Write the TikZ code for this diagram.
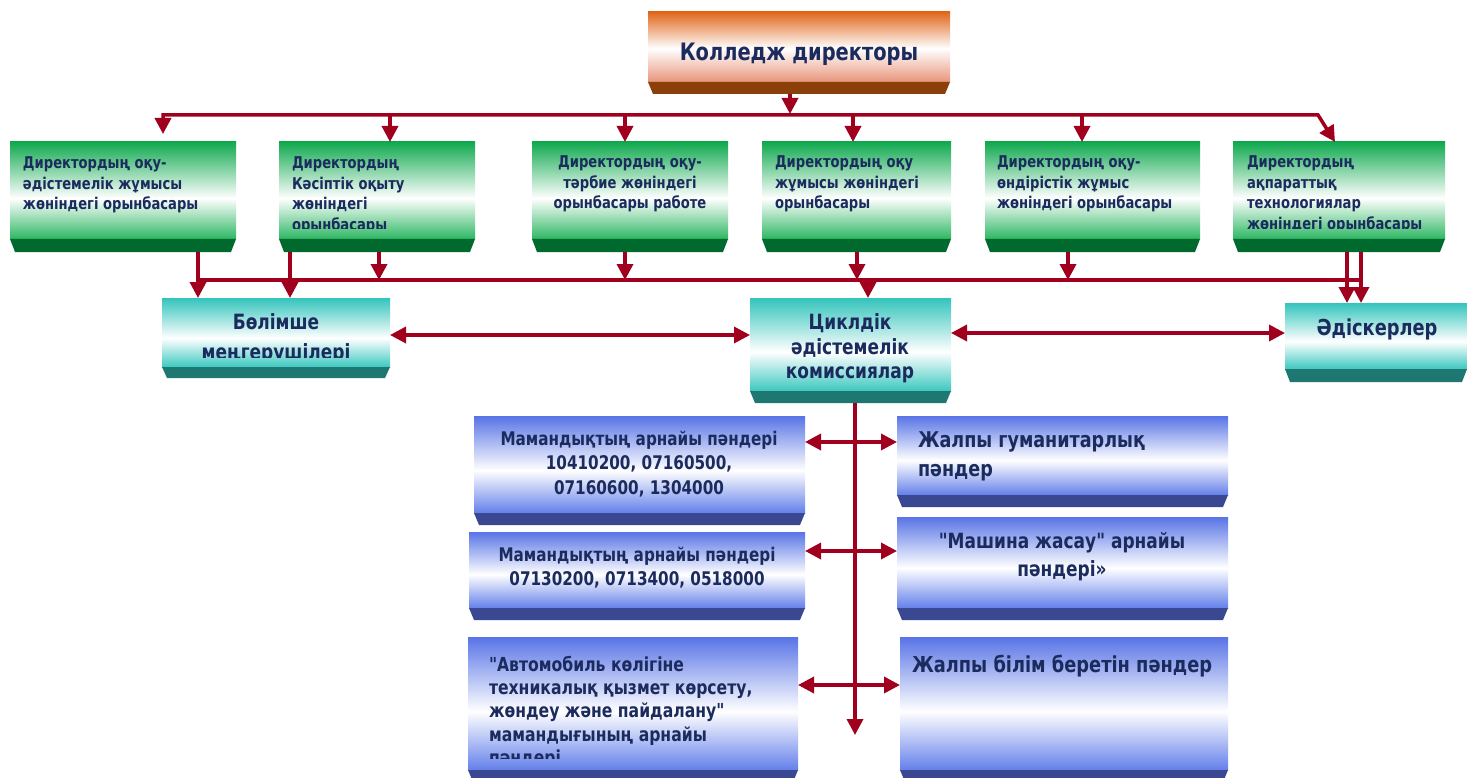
\documentclass[tikz,border=0pt]{standalone}
\usepackage{fontspec}
\setmainfont{DejaVu Sans Condensed}[Ligatures=TeXOff, FakeStretch=0.9]
\usetikzlibrary{arrows.meta,calc}
\definecolor{arrred}{HTML}{A0001E}
\definecolor{txtblue}{HTML}{1B2B5E}
\definecolor{gTop}{HTML}{10A94F}
\definecolor{gBot}{HTML}{2DB763}
\definecolor{gSh}{HTML}{006A2E}
\definecolor{tTop}{HTML}{33C4BC}
\definecolor{tBot}{HTML}{3CC8C0}
\definecolor{tSh}{HTML}{1E7771}
\definecolor{bTop}{HTML}{5874E6}
\definecolor{bBot}{HTML}{6480EA}
\definecolor{bSh}{HTML}{394890}
\definecolor{oTop}{HTML}{E0661A}
\definecolor{oBot}{HTML}{E8957A}
\definecolor{oSh}{HTML}{8A4008}
\pgfdeclareverticalshading{greensh}{100bp}{color(0bp)=(gBot); color(25bp)=(gBot); color(46bp)=(white); color(75bp)=(gTop); color(100bp)=(gTop)}
\pgfdeclareverticalshading{tealsh}{100bp}{color(0bp)=(tBot); color(25bp)=(tBot); color(46bp)=(white); color(75bp)=(tTop); color(100bp)=(tTop)}
\pgfdeclareverticalshading{bluesh}{100bp}{color(0bp)=(bBot); color(25bp)=(bBot); color(47bp)=(white); color(75bp)=(bTop); color(100bp)=(bTop)}
\pgfdeclareverticalshading{orangesh}{100bp}{color(0bp)=(oBot); color(25bp)=(oBot); color(49bp)=(white); color(75bp)=(oTop); color(100bp)=(oTop)}
\newcommand\ftitle{\fontsize{24}{28}\selectfont\bfseries}
\newcommand\fgreen{\fontsize{16.2}{20.5}\selectfont\bfseries}
\newcommand\fbol{\fontsize{21}{30}\selectfont\bfseries}
\newcommand\fcik{\fontsize{21}{24.5}\selectfont\bfseries}
\newcommand\fadi{\fontsize{22}{26}\selectfont\bfseries}
\newcommand\fblueA{\fontsize{18.8}{24.5}\selectfont\bfseries}
\newcommand\fblueC{\fontsize{21.7}{29}\selectfont\bfseries}
\newcommand\fblueD{\fontsize{21}{28}\selectfont\bfseries}
\newcommand\fblueE{\fontsize{19.3}{23.3}\selectfont\bfseries}
\newcommand\fblueF{\fontsize{22}{26}\selectfont\bfseries}
\tikzset{
  boxface/.style={shade, shading=#1, inner sep=0pt, outer sep=0pt, anchor=north west, draw=none},
  arr/.style={draw=arrred, line width=3.5pt, -{Triangle[width=16pt,length=16pt]}},
  darr/.style={draw=arrred, line width=3.5pt, {Triangle[width=16pt,length=16pt]}-{Triangle[width=16pt,length=16pt]}},
  plainline/.style={draw=arrred, line width=3.5pt},
  txt/.style={text=txtblue, inner sep=0pt, outer sep=0pt}
}
% name, x1, y1, x2, y2, shading, shadow colour, shadow height
\newcommand\mkbox[8]{%
  \node[boxface=#6, minimum width={#4-#2}, minimum height={#5-#3}] (#1) at (#2,#3) {};
  \fill[#7] (#1.south west) -- (#1.south east) -- ++(-5,#8) -- ($(#1.south west)+(5,#8)$) -- cycle;
}
\begin{document}
\begin{tikzpicture}[x=1pt,y=-1pt]
\useasboundingbox (0,0) rectangle (1467,778);
\fill[white] (0,0) rectangle (1467,778);
% boxes
\mkbox{dir}{648}{12}{950}{82}{orangesh}{oSh}{12}
\mkbox{g1}{10}{142}{236}{239}{greensh}{gSh}{13}
\mkbox{g2}{279}{142}{475}{239}{greensh}{gSh}{13}
\mkbox{g3}{532}{142}{728}{239}{greensh}{gSh}{13}
\mkbox{g4}{762}{142}{951}{239}{greensh}{gSh}{13}
\mkbox{g5}{985}{142}{1200}{239}{greensh}{gSh}{13}
\mkbox{g6}{1233}{142}{1445}{239}{greensh}{gSh}{13}
\mkbox{bol}{162}{298}{390}{367}{tealsh}{tSh}{11}
\mkbox{cik}{750}{298}{951}{391}{tealsh}{tSh}{12}
\mkbox{adi}{1285}{303}{1467}{369}{tealsh}{tSh}{13}
\mkbox{A}{474}{416}{805}{513}{bluesh}{bSh}{12}
\mkbox{B}{469}{532}{805}{608}{bluesh}{bSh}{12}
\mkbox{C}{897}{416}{1228}{495}{bluesh}{bSh}{12}
\mkbox{D}{897}{517}{1228}{608}{bluesh}{bSh}{12}
\mkbox{E}{468}{637}{798}{770}{bluesh}{bSh}{12}
\mkbox{F}{900}{637}{1228}{770}{bluesh}{bSh}{12}
% texts
\node[txt, anchor=north, font=\ftitle] (dirt) at (799,43) {Колледж директоры};
\node[txt, anchor=north west, align=left, font=\fgreen] (g1t) at (23,157) {Директордың оқу-\\әдістемелік жұмысы\\жөніндегі орынбасары};
\begin{scope}
  \clip (g2.north west) rectangle ($(g2.south east)+(0,-10)$);
  \node[txt, anchor=north west, align=left, font=\fgreen] (g2t) at (292,157) {Директордың\\Кәсіптік оқыту\\жөніндегі\\орынбасары};
\end{scope}
\node[txt, anchor=north, align=center, font=\fgreen] (g3t) at (630,156) {Директордың оқу-\\тәрбие жөніндегі\\орынбасары работе};
\node[txt, anchor=north west, align=left, font=\fgreen] (g4t) at (775,156) {Директордың оқу\\жұмысы жөніндегі\\орынбасары};
\node[txt, anchor=north west, align=left, font=\fgreen] (g5t) at (997,156) {Директордың оқу-\\өндірістік жұмыс\\жөніндегі орынбасары};
\begin{scope}
  \clip (g6.north west) rectangle ($(g6.south east)+(0,-10)$);
  \node[txt, anchor=north west, align=left, font=\fgreen] (g6t) at (1247,156) {Директордың\\ақпараттық\\технологиялар\\жөніндегі орынбасары};
\end{scope}
\begin{scope}
  \clip (bol.north west) rectangle ($(bol.south east)+(0,-10)$);
  \node[txt, anchor=north, align=center, font=\fbol] (bolt) at (276,314) {Бөлімше\\меңгерушілері};
\end{scope}
\node[txt, anchor=north, align=center, font=\fcik] (cikt) at (850,314) {Циклдік\\әдістемелік\\комиссиялар};
\node[txt, anchor=north, font=\fadi] (adit) at (1377,319) {Әдіскерлер};
\node[txt, anchor=north, align=center, font=\fblueA] (At) at (639,431) {Мамандықтың арнайы пәндері\\10410200, 07160500,\\07160600, 1304000};
\node[txt, anchor=north, align=center, font=\fblueA] (Bt) at (637,547) {Мамандықтың арнайы пәндері\\07130200, 0713400, 0518000};
\node[txt, anchor=north west, align=left, font=\fblueC] (Ct) at (918,432) {Жалпы гуманитарлық\\пәндер};
\node[txt, anchor=north, align=center, font=\fblueD] (Dt) at (1062,532) {"Машина жасау" арнайы\\пәндері»};
\begin{scope}
  \clip (E.north west) rectangle ($(E.south east)+(0,-12)$);
  \node[txt, anchor=north west, align=left, font=\fblueE] (Et) at (489,656) {"Автомобиль көлігіне\\техникалық қызмет көрсету,\\жөндеу және пайдалану"\\мамандығының арнайы\\пәндері};
\end{scope}
\node[txt, anchor=north west, font=\fblueF] (Ft) at (912,655) {Жалпы білім беретін пәндер};
% connector coordinates
\coordinate (dirOut) at (790,94);
\coordinate (busTop) at (790,114);
\coordinate (busL) at (163,115);
\coordinate (busR) at (1318,115);
\coordinate (g1in) at (163,134);
\coordinate (g6in) at (1335,142);
\coordinate (d2) at (390,115);
\coordinate (d3) at (625,115);
\coordinate (d4) at (853,115);
\coordinate (d5) at (1082,115);
\coordinate (lbL) at (198,280);
\coordinate (lbR) at (1361,280);
\coordinate (u1) at (198,252);
\coordinate (u2a) at (290,252);
\coordinate (u2b) at (379,252);
\coordinate (u3) at (625,252);
\coordinate (u4) at (857,252);
\coordinate (c1) at (868,280);
\coordinate (u5) at (1068,252);
\coordinate (u6a) at (1347,252);
\coordinate (u6b) at (1361,252);
\coordinate (h1) at (0,335);
\coordinate (h2) at (0,333);
\coordinate (vtop) at (855,403);
\coordinate (vbot) at (855,735);
\coordinate (r1) at (0,442);
\coordinate (r2) at (0,551);
\coordinate (r3) at (0,685);
% connectors
\draw[arr] (dirOut) -- (busTop);
\draw[darr] (g1in) -- (busL) -- (busR) -- (g6in);
\draw[arr] (d2) -- (d2 |- g2.north);
\draw[arr] (d3) -- (d3 |- g3.north);
\draw[arr] (d4) -- (d4 |- g4.north);
\draw[arr] (d5) -- (d5 |- g5.north);
\draw[plainline] (lbL) -- (lbR);
\draw[arr] (u1) -- (u1 |- bol.north);
\draw[arr] (u2a) -- (u2a |- bol.north);
\draw[arr] (u2b) -- (u2b |- lbL);
\draw[arr] (u3) -- (u3 |- lbL);
\draw[arr] (u4) -- (u4 |- lbL);
\draw[arr] (c1) -- (c1 |- cik.north);
\draw[arr] (u5) -- (u5 |- lbL);
\draw[arr] (u6a) -- (u6a |- adi.north);
\draw[arr] (u6b) -- (u6b |- adi.north);
\draw[darr] (bol.east |- h1) -- (cik.west |- h1);
\draw[darr] (cik.east |- h2) -- (adi.west |- h2);
\draw[arr] (vtop) -- (vbot);
\draw[darr] (A.east |- r1) -- (C.west |- r1);
\draw[darr] (B.east |- r2) -- (D.west |- r2);
\draw[darr] (E.east |- r3) -- (F.west |- r3);
\end{tikzpicture}
\end{document}
